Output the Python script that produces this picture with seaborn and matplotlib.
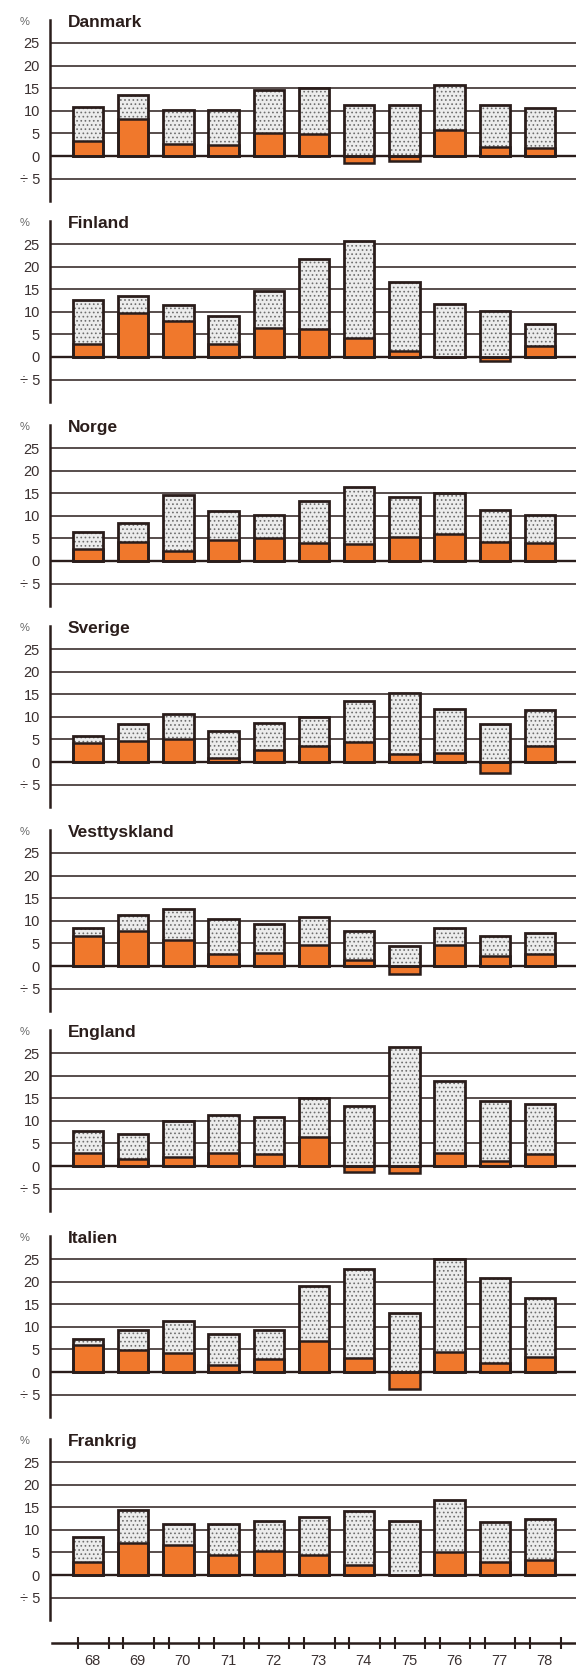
import pandas as pd
import seaborn as sns
import matplotlib.pyplot as plt
from matplotlib import transforms

years = ['68', '69', '70', '71', '72', '73', '74', '75', '76', '77', '78']
countries = ['Danmark', 'Finland', 'Norge', 'Sverige', 'Vesttyskland', 'England', 'Italien', 'Frankrig']

# top of bar (stippled) and the orange part, in %
danmark_total = [10.9, 13.5, 10.2, 10.2, 14.7, 15.1, 11.2, 11.3, 15.7, 11.3, 10.7]
danmark_real = [3.3, 8.2, 2.6, 2.5, 5.0, 4.9, -1.5, -1.0, 5.8, 2.1, 1.8]
finland_total = [12.7, 13.5, 11.6, 9.0, 14.6, 21.6, 25.7, 16.6, 11.8, 10.1, 7.4]
finland_real = [2.8, 9.8, 8.0, 2.8, 6.4, 6.1, 4.1, 1.3, 0.0, -0.8, 2.4]
norge_total = [6.4, 8.5, 14.6, 11.0, 10.1, 13.3, 16.3, 14.2, 15.1, 11.3, 10.1]
norge_real = [2.6, 4.3, 2.2, 4.6, 5.1, 3.9, 3.7, 5.4, 6.0, 4.2, 3.9]
sverige_total = [5.7, 8.5, 10.7, 6.9, 8.6, 10.0, 13.4, 15.3, 11.8, 8.5, 11.6]
sverige_real = [4.1, 4.7, 5.1, 0.8, 2.7, 3.6, 4.4, 1.8, 2.1, -2.4, 3.5]
vest_total = [8.5, 11.3, 12.5, 10.3, 9.3, 10.8, 7.7, 4.5, 8.3, 6.6, 7.4]
vest_real = [6.6, 7.7, 5.7, 2.6, 2.9, 4.7, 1.3, -1.7, 4.7, 2.2, 2.6]
england_total = [7.8, 7.0, 9.9, 11.3, 10.9, 15.0, 13.3, 26.3, 18.9, 14.3, 13.8]
england_real = [2.9, 1.6, 2.1, 2.9, 2.7, 6.4, -1.3, -1.6, 2.9, 1.2, 2.7]
italien_total = [7.4, 9.3, 11.3, 8.4, 9.3, 19.1, 22.7, 13.0, 25.0, 20.9, 16.3]
italien_real = [5.9, 4.8, 4.1, 1.5, 2.8, 6.8, 3.2, -3.7, 4.4, 1.9, 3.3]
frankrig_total = [8.5, 14.3, 11.2, 11.3, 12.0, 12.9, 14.2, 12.0, 16.7, 11.8, 12.5]
frankrig_real = [2.9, 7.0, 6.6, 4.4, 5.4, 4.4, 2.2, 0.0, 5.1, 2.9, 3.3]

totals = [danmark_total, finland_total, norge_total, sverige_total,
          vest_total, england_total, italien_total, frankrig_total]
reals = [danmark_real, finland_real, norge_real, sverige_real,
         vest_real, england_real, italien_real, frankrig_real]

ytick_vals = [-5, 0, 5, 10, 15, 20, 25]
ytick_labels = ['÷ 5', '0', '5', '10', '15', '20', '25']

sns.set_theme(style='white')
plt.rcParams['font.family'] = ['Liberation Sans', 'DejaVu Sans']
plt.rcParams['hatch.linewidth'] = 0.7

W, H = 576, 1669
fig = plt.figure(figsize=(W / 100, H / 100), dpi=100)

dark = '#2a1d1b'
orange = '#f0782c'
text_col = '#3a3030'

zeros = [156, 357, 561, 762, 966, 1166, 1372, 1575]   # pixel row of the 0 line
scale = 4.52                                          # px per %
left_px = 49.6
x0_px, step_px = 88, 45.2
xlim = ((left_px - x0_px) / step_px, (W - x0_px) / step_px)
bw = 0.675

for name, tot, real, z in zip(countries, totals, reals, zeros):
    top = z - 30 * scale
    ax = fig.add_axes([left_px / W, 1 - (top + 40 * scale) / H,
                       (W - left_px) / W, 40 * scale / H])
    df = pd.DataFrame({'year': years, 'total': tot, 'real': real})

    n0 = len(ax.patches)
    sns.barplot(data=df, x='year', y='total', color='#ececec', saturation=1,
                width=bw, errorbar=None, ax=ax)
    for p in ax.patches[n0:]:
        p.set_hatch('....')
        p.set_edgecolor('#6e6e6e')
        p.set_linewidth(0)
        p.set_zorder(2)

    n0 = len(ax.patches)
    sns.barplot(data=df, x='year', y='real', color=orange, saturation=1,
                width=bw, errorbar=None, ax=ax)
    for p in ax.patches[n0:]:
        p.set_edgecolor(dark)
        p.set_linewidth(1.8)
        p.set_zorder(3)

    n0 = len(ax.patches)
    sns.barplot(data=df, x='year', y='total', fill=False, color=dark,
                width=bw, errorbar=None, ax=ax)
    for p in ax.patches[n0:]:
        p.set_edgecolor(dark)
        p.set_linewidth(2.0)
        p.set_zorder(4)

    ax.set_xlim(xlim)
    ax.set_ylim(-10, 30)
    ax.set_xticks([])
    ax.set_yticks(ytick_vals, ytick_labels)
    ax.set_xlabel('')
    ax.set_ylabel('')
    ax.yaxis.grid(True, color=dark, linewidth=1.1)
    ax.set_axisbelow(True)
    ax.axhline(0, color=dark, linewidth=1.7, zorder=1.5)
    ax.tick_params(axis='y', length=0, pad=7, labelsize=10.5, labelcolor=text_col)
    for s in ['top', 'right', 'bottom']:
        ax.spines[s].set_visible(False)
    ax.spines['left'].set_color(dark)
    ax.spines['left'].set_linewidth(1.8)

    tr = transforms.blended_transform_factory(ax.transAxes, ax.transData)
    ax.text(0.035, 29.6, name, transform=tr, fontsize=12.5, fontweight='bold',
            va='center', ha='left', color=dark)
    ax.text(-0.047, 29.6, '%', transform=tr, fontsize=8, va='center',
            ha='center', color='#666666')

# shared year axis at the bottom
bx = fig.add_axes([52 / W, 1 - 1643 / H, (W - 52) / W, 10 / H])
bx.set_xlim(xlim[0] + (52 - left_px) / step_px, xlim[1])
bx.set_yticks([])
bx.set_xticks([i + 0.1 for i in range(len(years))], years)
edges = [i + 0.12 + s * bw / 2 for i in range(len(years)) for s in (-1, 1)]
bx.set_xticks(edges, minor=True)
bx.tick_params(axis='x', which='major', length=0, pad=8, labelsize=10.5,
               labelcolor=text_col, bottom=True)
bx.tick_params(axis='x', which='minor', direction='inout', length=9, width=1.5,
               color=dark, bottom=True)
for s in ['top', 'right', 'left']:
    bx.spines[s].set_visible(False)
bx.spines['bottom'].set_color(dark)
bx.spines['bottom'].set_linewidth(1.8)
bx.patch.set_alpha(0)

fig.savefig('out.png', dpi=100)
